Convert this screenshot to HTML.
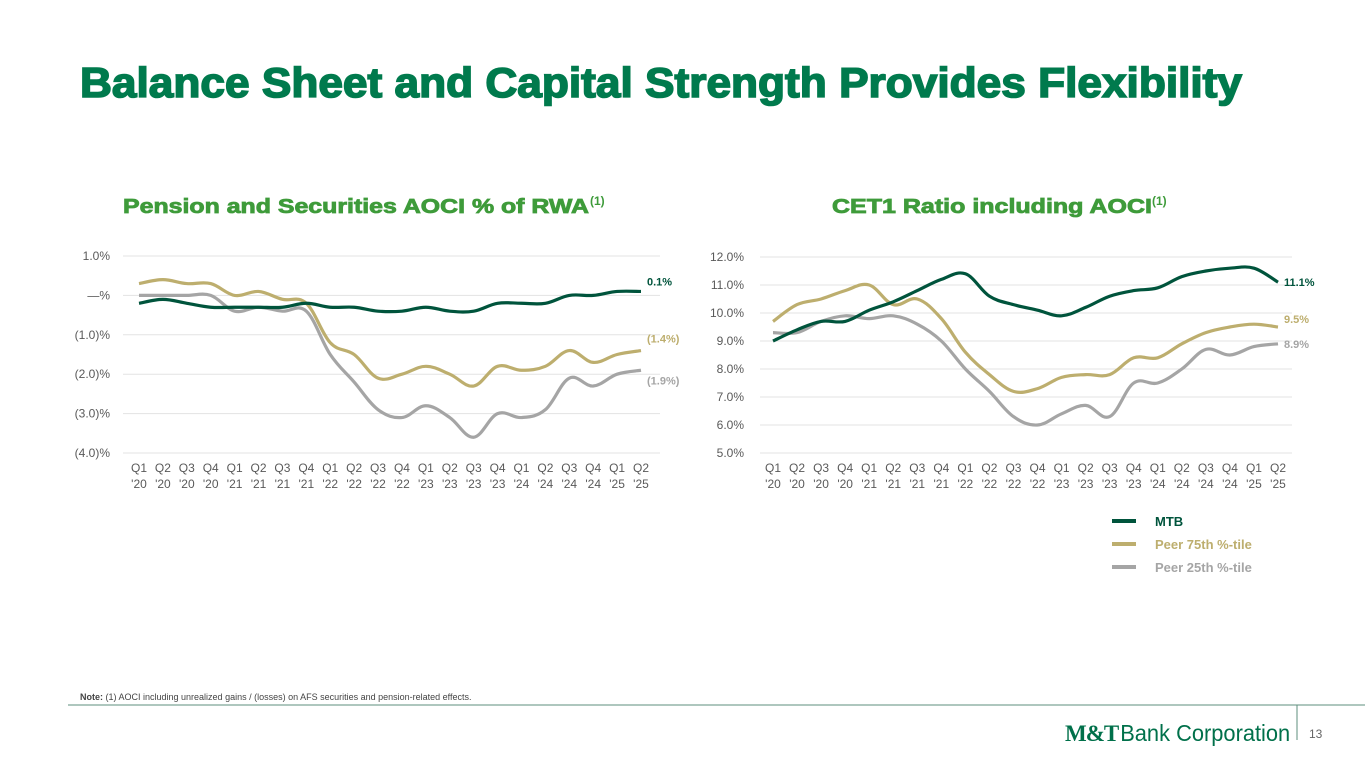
<!DOCTYPE html>
<html><head><meta charset="utf-8"><style>
html,body{margin:0;padding:0;background:#fff}
svg{display:block}
text{font-family:"Liberation Sans",Arial,sans-serif}
</style></head><body>
<svg id="s" width="1365" height="768" viewBox="0 0 1365 768">
<text x="80" y="97" font-size="42" font-weight="bold" fill="#007A4D" stroke="#007A4D" stroke-width="1.6" textLength="1162" lengthAdjust="spacingAndGlyphs">Balance Sheet and Capital Strength Provides Flexibility</text>
<text x="123" y="213" font-size="20" font-weight="bold" fill="#3E9B3A" stroke="#3E9B3A" stroke-width="0.8" textLength="466" lengthAdjust="spacingAndGlyphs">Pension and Securities AOCI % of RWA</text>
<text x="590" y="205" font-size="12" font-weight="bold" fill="#3E9B3A">(1)</text>
<text x="832" y="213" font-size="20" font-weight="bold" fill="#3E9B3A" stroke="#3E9B3A" stroke-width="0.8" textLength="320" lengthAdjust="spacingAndGlyphs">CET1 Ratio including AOCI</text>
<text x="1152" y="205" font-size="12" font-weight="bold" fill="#3E9B3A">(1)</text>
<g id="left"></g>
<g id="right"></g>
<g>
<line x1="1112" y1="521" x2="1136" y2="521" stroke="#00543C" stroke-width="4"/>
<text x="1155" y="526" font-size="13" font-weight="bold" fill="#00543C">MTB</text>
<line x1="1112" y1="544" x2="1136" y2="544" stroke="#BDAE6E" stroke-width="4"/>
<text x="1155" y="549" font-size="13" font-weight="bold" fill="#BDAE6E">Peer 75th %-tile</text>
<line x1="1112" y1="567" x2="1136" y2="567" stroke="#A5A5A5" stroke-width="4"/>
<text x="1155" y="572" font-size="13" font-weight="bold" fill="#A5A5A5">Peer 25th %-tile</text>
</g>
<text x="80" y="700" font-size="9" fill="#444"><tspan font-weight="bold">Note:</tspan> (1) AOCI including unrealized gains / (losses) on AFS securities and pension-related effects.</text>
<line x1="68" y1="705" x2="1365" y2="705" stroke="#5E8F7E" stroke-width="1"/>
<line x1="1297" y1="705" x2="1297" y2="740" stroke="#5E8F7E" stroke-width="1"/>
<text x="1065" y="741" font-size="23" fill="#00704A"><tspan font-family="Liberation Serif" font-weight="bold" letter-spacing="-1">M&amp;T</tspan><tspan dx="2" textLength="170" lengthAdjust="spacingAndGlyphs">Bank Corporation</tspan></text>
<text x="1309" y="738" font-size="12" fill="#666">13</text>
</svg>
<script>
const cats=["Q1 '20","Q2 '20","Q3 '20","Q4 '20","Q1 '21","Q2 '21","Q3 '21","Q4 '21","Q1 '22","Q2 '22","Q3 '22","Q4 '22","Q1 '23","Q2 '23","Q3 '23","Q4 '23","Q1 '24","Q2 '24","Q3 '24","Q4 '24","Q1 '25","Q2 '25"];
const aociMTB=[-0.2,-0.1,-0.2,-0.3,-0.3,-0.3,-0.3,-0.2,-0.3,-0.3,-0.4,-0.4,-0.3,-0.4,-0.4,-0.2,-0.2,-0.2,0.0,0.0,0.1,0.1];
const aociP75=[0.3,0.4,0.3,0.3,0.0,0.1,-0.1,-0.2,-1.2,-1.5,-2.1,-2.0,-1.8,-2.0,-2.3,-1.8,-1.9,-1.8,-1.4,-1.7,-1.5,-1.4];
const aociP25=[0.0,0.0,0.0,0.0,-0.4,-0.3,-0.4,-0.4,-1.5,-2.2,-2.9,-3.1,-2.8,-3.1,-3.6,-3.0,-3.1,-2.9,-2.1,-2.3,-2.0,-1.9];
const aociTicks=[1,0,-1,-2,-3,-4];
const aociTickLabels=["1.0%","—%","(1.0)%","(2.0)%","(3.0)%","(4.0)%"];
const aociEndLabels=["0.1%","(1.4%)","(1.9%)"];
const cetMTB=[9.0,9.4,9.7,9.7,10.1,10.4,10.8,11.2,11.4,10.6,10.3,10.1,9.9,10.2,10.6,10.8,10.9,11.3,11.5,11.6,11.6,11.1];
const cetP75=[9.7,10.3,10.5,10.8,11.0,10.3,10.5,9.8,8.6,7.8,7.2,7.3,7.7,7.8,7.8,8.4,8.4,8.9,9.3,9.5,9.6,9.5];
const cetP25=[9.3,9.3,9.7,9.9,9.8,9.9,9.6,9.0,8.0,7.2,6.3,6.0,6.4,6.7,6.3,7.5,7.5,8.0,8.7,8.5,8.8,8.9];
const cetTicks=[12,11,10,9,8,7,6,5];
const cetTickLabels=["12.0%","11.0%","10.0%","9.0%","8.0%","7.0%","6.0%","5.0%"];
const cetEndLabels=["11.1%","9.5%","8.9%"];

const NS="http://www.w3.org/2000/svg";
function mk(tag,attrs,parent){const e=document.createElementNS(NS,tag);for(const k in attrs)e.setAttribute(k,attrs[k]);parent.appendChild(e);return e;}
function smooth(pts){let d="M"+pts[0][0]+","+pts[0][1];for(let i=0;i<pts.length-1;i++){const p0=pts[i-1]||pts[i],p1=pts[i],p2=pts[i+1],p3=pts[i+2]||p2;const t=0.18;d+=" C"+(p1[0]+(p2[0]-p0[0])*t)+","+(p1[1]+(p2[1]-p0[1])*t)+" "+(p2[0]-(p3[0]-p1[0])*t)+","+(p2[1]-(p3[1]-p1[1])*t)+" "+p2[0]+","+p2[1];}return d;}
function chart(g,o){
  const x=i=>o.x0+(o.x1-o.x0)*i/(cats.length-1);
  const y=v=>o.yTop+(o.vmax-v)/(o.vmax-o.vmin)*(o.yBot-o.yTop);
  o.ticks.forEach((t,i)=>{
    const l=mk("line",{x1:o.gx0,x2:o.gx1,y1:y(t),y2:y(t),stroke:"#E3E3E3","stroke-width":1},g);
    
    
    const tx=mk("text",{x:o.labX,y:y(t)+4,"font-size":12,fill:"#595959","text-anchor":"end"},g);tx.textContent=o.labels[i];
    
    
  });
  cats.forEach((c,i)=>{
    const p=c.split(" ");
    const t1=mk("text",{x:x(i),y:o.yBot+19,"font-size":12,fill:"#595959","text-anchor":"middle"},g);t1.textContent=p[0];
    
    
    const t2=mk("text",{x:x(i),y:o.yBot+35,"font-size":12,fill:"#595959","text-anchor":"middle"},g);t2.textContent=p[1];
    
    
  });
  const cols=["#A5A5A5","#BDAE6E","#00543C"];
  const series=[o.s[2],o.s[1],o.s[0]];
  const names=["peer25-line","peer75-line","mtb-line"];
  series.forEach((s,k)=>{
    const p=mk("path",{d:smooth(s.map((v,i)=>[x(i),y(v)])),fill:"none",stroke:cols[k],"stroke-width":3.2,"stroke-linejoin":"round"},g);
    
    
  });
  const ecols=["#00543C","#BDAE6E","#A5A5A5"];
  o.s.forEach((s,k)=>{
    const t=mk("text",{x:x(cats.length-1)+6,y:y(s[s.length-1])+o.off[k],"font-size":11,"font-weight":"bold",fill:ecols[k]},g);t.textContent=o.end[k];
    
    
  });
}
chart(document.getElementById("left"),{x0:139,x1:641,yTop:256,yBot:453,vmax:1,vmin:-4,gx0:123,gx1:660,labX:110,ticks:aociTicks,labels:aociTickLabels,s:[aociMTB,aociP75,aociP25],end:aociEndLabels,off:[-6,-8,14]});
chart(document.getElementById("right"),{x0:773,x1:1278,yTop:257,yBot:453,vmax:12,vmin:5,gx0:760,gx1:1292,labX:744,ticks:cetTicks,labels:cetTickLabels,s:[cetMTB,cetP75,cetP25],end:cetEndLabels,off:[4,-4,4]});
</script>
</body></html>
